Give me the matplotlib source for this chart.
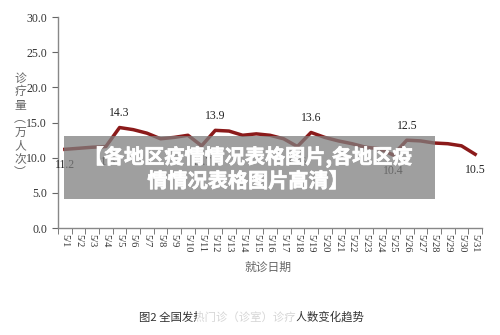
import matplotlib
matplotlib.use('Agg')
import matplotlib.pyplot as plt
import matplotlib.patheffects as pe
from matplotlib.patches import Rectangle

# Daily fever-clinic visits in May (10k person-visits)
dates = ['5/%d' % d for d in range(1, 32)]
visits = [11.2, 11.35, 11.5, 11.6, 14.3, 14.0, 13.5, 12.7, 12.9, 13.2,
          11.7, 13.9, 13.8, 13.2, 13.4, 13.2, 12.7, 11.6, 13.6, 12.9,
          12.4, 12.0, 11.5, 11.3, 10.4, 12.5, 12.4, 12.1, 12.0, 11.7, 10.5]

# Points that carry a value label, and whether the label sits above
labelled = {0: False, 3: False, 4: True, 10: False, 11: True,
            17: False, 18: True, 24: False, 25: True, 30: False}

serif = 'Liberation Serif'
cjk = ['Noto Sans CJK SC', 'DejaVu Sans']
grey = '#666666'

fig = plt.figure(figsize=(5.0, 3.35), dpi=100)
ax = fig.add_axes([0.116, 0.319, 0.848, 0.630])

x = list(range(len(dates)))
ax.plot(x, visits, color='#8b1a1a', lw=2.5, solid_joinstyle='round')

for i, above in labelled.items():
    v = visits[i]
    ax.annotate('%.1f' % v, (i, v), xytext=(0, 6 if above else -7),
                textcoords='offset points', ha='center',
                va='bottom' if above else 'top',
                fontsize=8.5, family=serif, color='#222222')

ax.set_ylim(0, 30)
ax.set_xlim(-0.5, len(dates) - 0.5)
ax.set_yticks([0, 5, 10, 15, 20, 25, 30])
ax.set_yticklabels(['%.1f' % t for t in [0, 5, 10, 15, 20, 25, 30]],
                   family=serif, fontsize=8.5, color='#333333')
ax.set_xticks(x)
ax.set_xticklabels(dates, rotation=-90, family=serif, fontsize=7.5,
                   color='#333333')
ax.set_xticks([i - 0.5 for i in range(len(dates) + 1)], minor=True)
ax.tick_params(axis='x', which='major', length=0, pad=4)
ax.tick_params(axis='x', which='minor', length=4, color=grey, direction='out')
ax.tick_params(axis='y', length=4, color=grey, direction='out', pad=4)

for side in ['top', 'right']:
    ax.spines[side].set_visible(False)
for side in ['left', 'bottom']:
    ax.spines[side].set_color('#888888')
    ax.spines[side].set_linewidth(1.0)

# Vertical y-axis title, one character per row
ylab = '\n'.join(['诊', '疗', '量', '\ufe35', '万', '人', '次', '\ufe36'])
fig.text(0.04, 0.625, ylab, ha='center', va='center', fontsize=8.5,
         family=cjk, color=grey, linespacing=1.05)

fig.text(0.536, 0.203, '就诊日期', ha='center', va='center', fontsize=8.5,
         family=cjk, color=grey)

fig.text(0.502, 0.054, '图2 全国发热门诊（诊室）诊疗人数变化趋势',
         ha='center', va='center', fontsize=8.2, family=cjk, color='#333333')
fig.patches.append(Rectangle((0.394, 0.030), 0.200, 0.050,
                             transform=fig.transFigure, facecolor='white',
                             edgecolor='none', alpha=0.8, zorder=5))

# Grey banner with the headline
fig.patches.append(Rectangle((0.128, 0.406), 0.742, 0.188,
                             transform=fig.transFigure, facecolor='#7f7f7f',
                             edgecolor='none', alpha=0.75, zorder=5))
heavy = [pe.withStroke(linewidth=0.5, foreground='white')]
fig.text(0.496, 0.531, '【各地区疫情情况表格图片,各地区疫', ha='center',
         va='center', fontsize=14.5, fontweight='bold', family=cjk,
         color='white', zorder=6, path_effects=heavy)
fig.text(0.496, 0.460, '情情况表格图片高清】', ha='center', va='center',
         fontsize=14.5, fontweight='bold', family=cjk, color='white', zorder=6,
         path_effects=heavy)

fig.savefig('out.png', dpi=100)
